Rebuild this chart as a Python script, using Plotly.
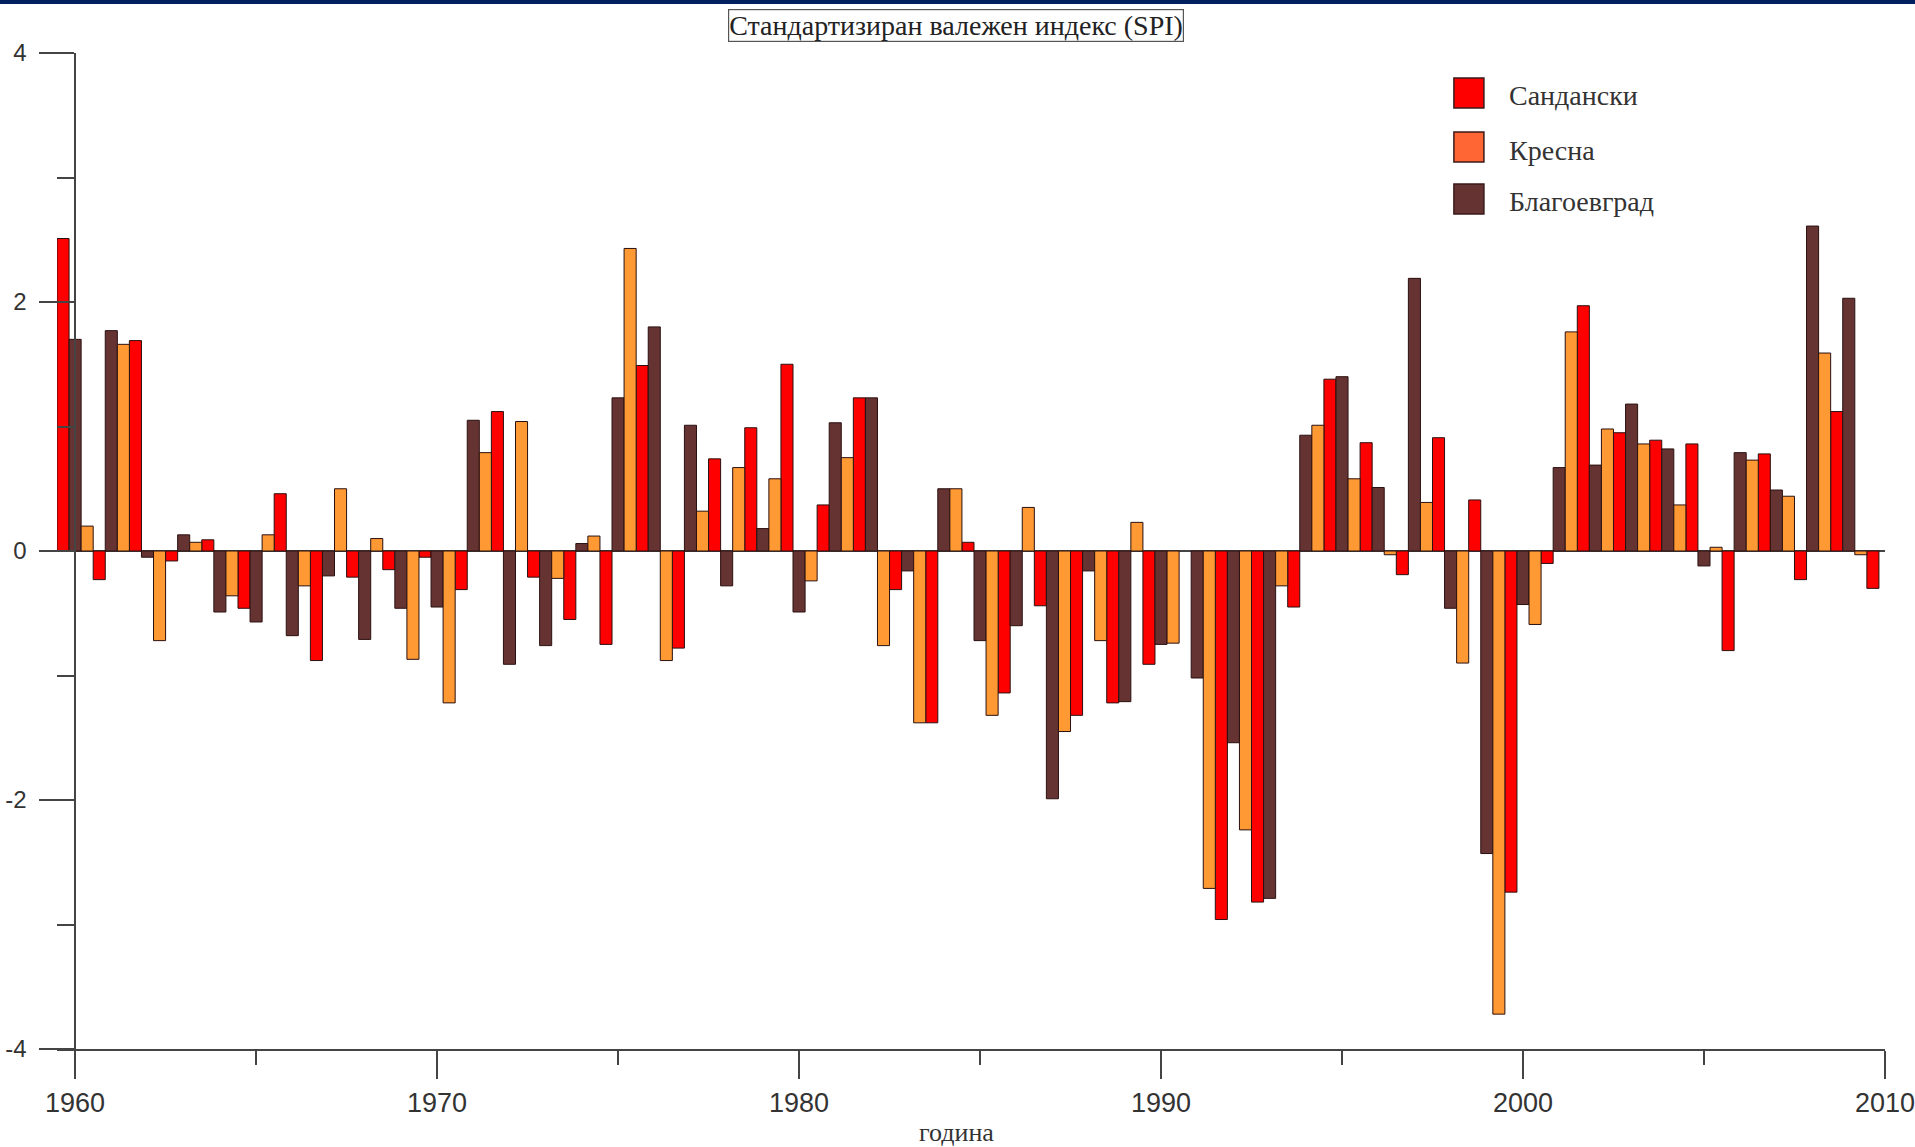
import plotly.graph_objects as go

years_red = list(range(1960, 2011))
years = list(range(1960, 2010))

sandanski = [2.51, -0.23, 1.69, -0.08, 0.09, -0.46, 0.46, -0.88, -0.21, -0.15,
             -0.05, -0.31, 1.12, -0.21, -0.55, -0.75, 1.49, -0.78, 0.74, 0.99,
             1.50, 0.37, 1.23, -0.31, -1.38, 0.07, -1.14, -0.44, -1.32, -1.22,
             -0.91, None, -2.96, -2.82, -0.45, 1.38, 0.87, -0.19, 0.91, 0.41,
             -2.74, -0.10, 1.97, 0.95, 0.89, 0.86, -0.80, 0.78, -0.23, 1.12,
             -0.30]

kresna = [0.20, 1.66, -0.72, 0.07, -0.36, 0.13, -0.28, 0.50, 0.10, -0.87,
          -1.22, 0.79, 1.04, -0.22, 0.12, 2.43, -0.88, 0.32, 0.67, 0.58,
          -0.24, 0.75, -0.76, -1.38, 0.50, -1.32, 0.35, -1.45, -0.72, 0.23,
          -0.74, -2.71, -2.24, -0.28, 1.01, 0.58, -0.03, 0.39, -0.90, -3.72,
          -0.59, 1.76, 0.98, 0.86, 0.37, 0.03, 0.73, 0.44, 1.59, -0.03]

blagoevgrad = [1.70, 1.77, -0.05, 0.13, -0.49, -0.57, -0.68, -0.20, -0.71, -0.46,
               -0.45, 1.05, -0.91, -0.76, 0.06, 1.23, 1.80, 1.01, -0.28, 0.18,
               -0.49, 1.03, 1.23, -0.16, 0.50, -0.72, -0.60, -1.99, -0.16, -1.21,
               -0.75, -1.02, -1.54, -2.79, 0.93, 1.40, 0.51, 2.19, -0.46, -2.43,
               -0.43, 0.67, 0.69, 1.18, 0.82, -0.12, 0.79, 0.49, 2.61, 2.03]

x_tickvals = [1960, 1970, 1980, 1990, 2000, 2010]
y_tickvals = [-4, -2, 0, 2, 4]
y_ticktext = ["-4", "-2", "0", "2", "4"]

series_names = ["Сандански", "Кресна", "Благоевград"]
bar_colors = ["#FF0000", "#FF9933", "#663333"]
legend_colors = ["#FF0000", "#FF6633", "#663333"]

W, H = 1915, 1147
X_AXIS_PX = 75.5          # pixel of year 1960 (y-axis line)
R, T, B = 1885, 53, 1049
PX_PER_YEAR = (R - X_AXIS_PX) / 50.0
L = X_AXIS_PX - 0.5 * PX_PER_YEAR   # left edge of plot area = 1959.5


def px(x):
    return (x - L) / (R - L)


def py(y):
    return (B - y) / (B - T)


fig = go.Figure()
w = 1 / 3
line = dict(color="#2a1010", width=1)
fig.add_trace(go.Bar(x=years_red, y=sandanski, width=w, offset=-0.5,
                     marker=dict(color=bar_colors[0], line=line),
                     name=series_names[0], showlegend=False))
fig.add_trace(go.Bar(x=years, y=blagoevgrad, width=w, offset=-1 / 6,
                     marker=dict(color=bar_colors[2], line=line),
                     name=series_names[2], showlegend=False))
fig.add_trace(go.Bar(x=years, y=kresna, width=w, offset=1 / 6,
                     marker=dict(color=bar_colors[1], line=line),
                     name=series_names[1], showlegend=False))

axcol = "#444444"
shapes = [dict(type="rect", xref="paper", yref="paper",
               x0=px(0), x1=px(W), y0=py(4), y1=py(0),
               fillcolor="#002060", line=dict(width=0), layer="above")]
annotations = []

leg_y = [93, 147, 199]
for name, col, yc in zip(series_names, legend_colors, leg_y):
    shapes.append(dict(type="rect", xref="paper", yref="paper",
                       x0=px(1454), x1=px(1484), y0=py(yc + 15), y1=py(yc - 15),
                       fillcolor=col, line=dict(color="#3a1a1a", width=1.5)))
    annotations.append(dict(xref="paper", yref="paper", x=px(1507), y=py(yc + 3),
                            xanchor="left", yanchor="middle", showarrow=False,
                            text=name,
                            font=dict(family="Liberation Serif", size=28, color="#333333")))

annotations.append(dict(xref="paper", yref="paper", x=px(956), y=py(25),
                        xanchor="center", yanchor="middle", showarrow=False,
                        text="Стандартизиран валежен индекс (SPI)",
                        font=dict(family="Liberation Serif", size=28, color="#222222"),
                        bordercolor="#555555", borderwidth=1.2, borderpad=0,
                        bgcolor="white"))
annotations.append(dict(xref="paper", yref="paper", x=px(957), y=py(1132),
                        xanchor="center", yanchor="middle", showarrow=False,
                        text="година",
                        font=dict(family="Liberation Serif", size=26, color="#333333")))

fig.update_layout(
    width=W, height=H,
    margin=dict(l=L, r=W - R, t=T, b=H - B, pad=0),
    paper_bgcolor="white", plot_bgcolor="white",
    barmode="overlay",
    shapes=shapes, annotations=annotations,
    xaxis=dict(range=[1959.5, 2010.001], tickmode="array", tickvals=x_tickvals,
               ticktext=[str(v) for v in x_tickvals],
               ticks="outside", ticklen=28, tickwidth=1.5, tickcolor=axcol,
               minor=dict(tickmode="linear", tick0=1960, dtick=5, ticks="outside",
                          ticklen=14, tickwidth=1.5, tickcolor=axcol, showgrid=False),
               showline=True, linecolor=axcol, linewidth=1.5, showgrid=False,
               zeroline=False, ticklabelstandoff=1,
               tickfont=dict(family="Liberation Sans", size=27, color="#333333"),
               automargin=False, fixedrange=True),
    yaxis=dict(range=[-4, 4], tickmode="array", tickvals=y_tickvals,
               ticktext=y_ticktext,
               anchor="free", position=px(X_AXIS_PX),
               ticks="outside", ticklen=35, tickwidth=1.5, tickcolor=axcol,
               minor=dict(tickmode="linear", tick0=-4, dtick=1, ticks="outside",
                          ticklen=17, tickwidth=1.5, tickcolor=axcol, showgrid=False),
               showline=True, linecolor=axcol, linewidth=1.5, showgrid=False,
               zeroline=True, zerolinecolor=axcol, zerolinewidth=1.5,
               ticklabelstandoff=8,
               tickfont=dict(family="Liberation Sans", size=24, color="#333333"),
               automargin=False, fixedrange=True),
)

fig.write_html("out.html", config={"displayModeBar": False},
               post_script="document.body.style.margin='0';")
